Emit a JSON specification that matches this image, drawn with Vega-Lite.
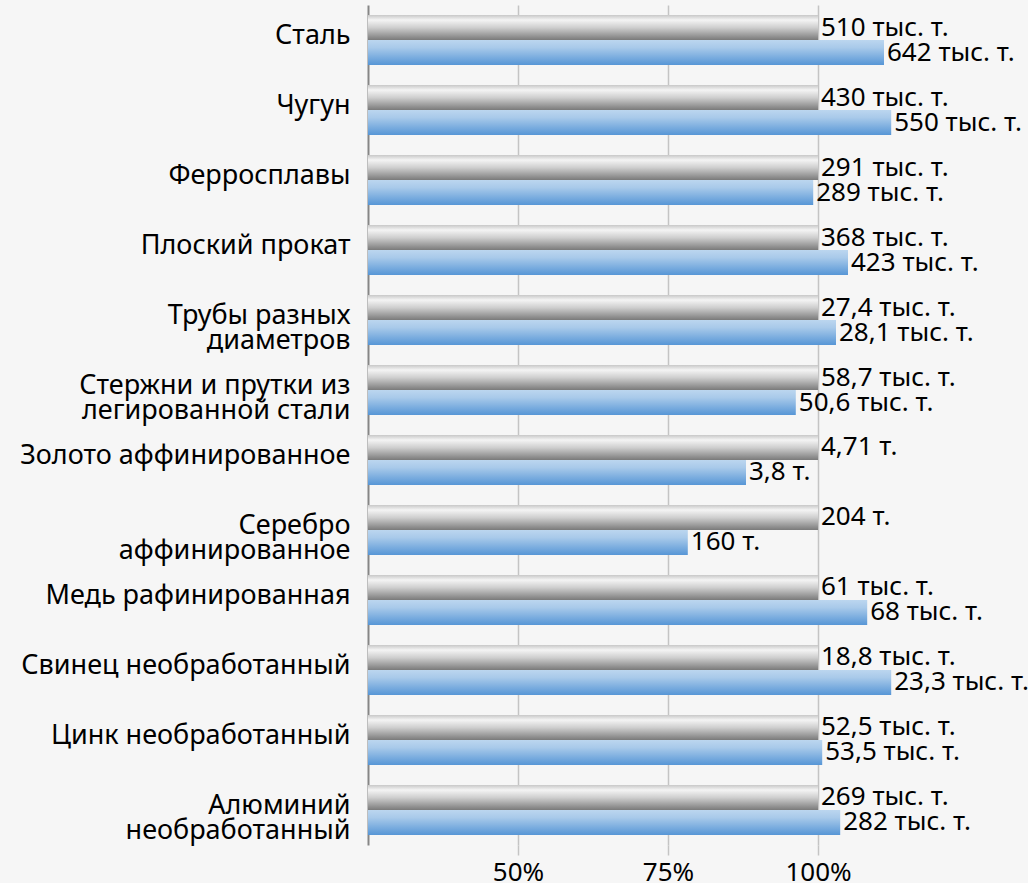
{
  "$schema": "https://vega.github.io/schema/vega-lite/v6.json",
  "width": 570,
  "height": 840,
  "autosize": "none",
  "padding": {"left": 368, "top": 5, "right": 90, "bottom": 38},
  "background": "#f6f6f6",
  "config": {"view": {"stroke": null}, "font": "Noto Sans", "text": {"font": "Noto Sans"}},
  "data": {
    "values": [
      {"cat": "Сталь", "series": "prev", "pct": 100, "label": "510 тыс. т."},
      {"cat": "Сталь", "series": "curr", "pct": 111.0, "label": "642 тыс. т."},
      {"cat": "Чугун", "series": "prev", "pct": 100, "label": "430 тыс. т."},
      {"cat": "Чугун", "series": "curr", "pct": 112.2, "label": "550 тыс. т."},
      {"cat": "Ферросплавы", "series": "prev", "pct": 100, "label": "291 тыс. т."},
      {"cat": "Ферросплавы", "series": "curr", "pct": 99.2, "label": "289 тыс. т."},
      {"cat": "Плоский прокат", "series": "prev", "pct": 100, "label": "368 тыс. т."},
      {"cat": "Плоский прокат", "series": "curr", "pct": 105.0, "label": "423 тыс. т."},
      {"cat": "Трубы разных|диаметров", "series": "prev", "pct": 100, "label": "27,4 тыс. т."},
      {"cat": "Трубы разных|диаметров", "series": "curr", "pct": 103.0, "label": "28,1 тыс. т."},
      {"cat": "Стержни и прутки из|легированной стали", "series": "prev", "pct": 100, "label": "58,7 тыс. т."},
      {"cat": "Стержни и прутки из|легированной стали", "series": "curr", "pct": 96.3, "label": "50,6 тыс. т."},
      {"cat": "Золото аффинированное", "series": "prev", "pct": 100, "label": "4,71 т."},
      {"cat": "Золото аффинированное", "series": "curr", "pct": 88.0, "label": "3,8 т."},
      {"cat": "Серебро|аффинированное", "series": "prev", "pct": 100, "label": "204 т."},
      {"cat": "Серебро|аффинированное", "series": "curr", "pct": 78.3, "label": "160 т."},
      {"cat": "Медь рафинированная", "series": "prev", "pct": 100, "label": "61 тыс. т."},
      {"cat": "Медь рафинированная", "series": "curr", "pct": 108.2, "label": "68 тыс. т."},
      {"cat": "Свинец необработанный", "series": "prev", "pct": 100, "label": "18,8 тыс. т."},
      {"cat": "Свинец необработанный", "series": "curr", "pct": 112.2, "label": "23,3 тыс. т."},
      {"cat": "Цинк необработанный", "series": "prev", "pct": 100, "label": "52,5 тыс. т."},
      {"cat": "Цинк необработанный", "series": "curr", "pct": 100.7, "label": "53,5 тыс. т."},
      {"cat": "Алюминий|необработанный", "series": "prev", "pct": 100, "label": "269 тыс. т."},
      {"cat": "Алюминий|необработанный", "series": "curr", "pct": 103.7, "label": "282 тыс. т."}
    ]
  },
  "encoding": {
    "y": {
      "field": "cat",
      "type": "nominal",
      "sort": null,
      "scale": {"paddingInner": 0.2857, "paddingOuter": 0.1429},
      "axis": {
        "title": null,
        "ticks": false,
        "grid": false,
        "domainColor": "#868686",
        "domainWidth": 2,
        "labelPadding": 18,
        "labelFontSize": 27,
        "labelColor": "#000000",
        "labelLimit": 400,
        "labelOffset": -4,
        "labelLineHeight": 25,
        "labelExpr": "split(datum.label, '|')"
      }
    },
    "yOffset": {
      "field": "series",
      "type": "nominal",
      "scale": {"domain": ["prev", "curr"], "paddingInner": 0, "paddingOuter": 0}
    },
    "x": {
      "field": "pct",
      "type": "quantitative",
      "scale": {"domain": [25, 120], "zero": false},
      "axis": {
        "title": null,
        "values": [50, 75, 100],
        "labelExpr": "datum.value + '%'",
        "domain": false,
        "grid": true,
        "gridColor": "#c4c4c4",
        "gridWidth": 1.5,
        "tickColor": "#c4c4c4",
        "tickWidth": 1.5,
        "tickSize": 10,
        "labelFontSize": 26,
        "labelColor": "#000000",
        "labelPadding": 4
      }
    }
  },
  "layer": [
    {
      "transform": [{"filter": "datum.series == 'prev'"}],
      "mark": {
        "type": "bar",
        "color": {
          "gradient": "linear", "x1": 0, "y1": 0, "x2": 0, "y2": 1,
          "stops": [
            {"offset": 0, "color": "#c8c8c8"},
            {"offset": 0.2, "color": "#f4f4f4"},
            {"offset": 0.5, "color": "#cfcfcf"},
            {"offset": 1, "color": "#7a7a7a"}
          ]
        }
      },
      "encoding": {"x2": {"datum": 25}}
    },
    {
      "transform": [{"filter": "datum.series == 'curr'"}],
      "mark": {
        "type": "bar",
        "color": {
          "gradient": "linear", "x1": 0, "y1": 0, "x2": 0, "y2": 1,
          "stops": [
            {"offset": 0, "color": "#bcd6ef"},
            {"offset": 0.3, "color": "#a9caea"},
            {"offset": 1, "color": "#5796d6"}
          ]
        }
      },
      "encoding": {"x2": {"datum": 25}}
    },
    {
      "mark": {"type": "text", "align": "left", "baseline": "middle", "dx": 3, "fontSize": 26, "color": "#000000"},
      "encoding": {"text": {"field": "label"}}
    }
  ]
}
